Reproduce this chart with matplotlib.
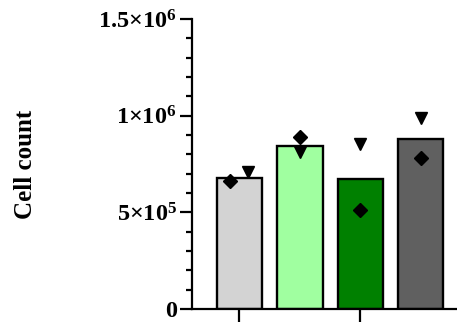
import matplotlib
matplotlib.use("Agg")
import matplotlib.pyplot as plt
from matplotlib.ticker import FixedLocator, MultipleLocator

plt.rcParams['font.family'] = ['Liberation Serif', 'DejaVu Serif']
plt.rcParams['font.weight'] = 'bold'
plt.rcParams['mathtext.fontset'] = 'custom'
plt.rcParams['mathtext.rm'] = 'Liberation Serif:bold'
plt.rcParams['mathtext.bf'] = 'Liberation Serif:bold'
plt.rcParams['mathtext.it'] = 'Liberation Serif:bold:italic'

# data
groups = ['A', 'B', 'C', 'D']
bar_means = [0.679e6, 0.843e6, 0.671e6, 0.878e6]
diamond_vals = [0.664e6, 0.891e6, 0.511e6, 0.780e6]
triangle_vals = [0.710e6, 0.814e6, 0.852e6, 0.990e6]
bar_colors = ['#D3D3D3', '#A0FFA0', '#008000', '#606060']
ytick_vals = [0, 0.5e6, 1.0e6, 1.5e6]
ytick_labels = ['0', r'$\mathbf{5{\times}10^{5}}$', r'$\mathbf{1{\times}10^{6}}$', r'$\mathbf{1.5{\times}10^{6}}$']
ylabel = 'Cell count'

# jitter offsets (layout)
diamond_dx = [-0.157, 0, 0, 0]
triangle_dx = [0.14, 0, 0, 0]

W, H = 457, 325
fig = plt.figure(figsize=(W / 100, H / 100), dpi=100)
ax = fig.add_axes([191.5 / W, (H - 309) / H, (W - 191.5) / W, 290 / H])

x = list(range(len(groups)))
ax.bar(x, bar_means, width=0.75, color=bar_colors, edgecolor='black', linewidth=1.7, zorder=2)
ax.plot([xi + d for xi, d in zip(x, diamond_dx)], diamond_vals, linestyle='none',
        marker='D', markersize=7, color='black', zorder=3, clip_on=False)
ax.plot([xi + d for xi, d in zip(x, triangle_dx)], triangle_vals, linestyle='none',
        marker='v', markersize=9, color='black', zorder=3, clip_on=False)

ax.set_xlim(-0.794, 3.6)
ax.set_ylim(0, 1.5e6)

for s in ['top', 'right']:
    ax.spines[s].set_visible(False)
for s in ['left', 'bottom']:
    ax.spines[s].set_linewidth(1.6)

ax.set_xticks([0, 2])
ax.set_xticklabels([])
ax.tick_params(axis='x', direction='out', length=9.5, width=1.6)

ax.yaxis.set_major_locator(FixedLocator(ytick_vals))
ax.set_yticklabels(ytick_labels)
ax.yaxis.set_minor_locator(MultipleLocator(1e5))
ax.tick_params(axis='y', which='major', direction='out', length=8.5, width=1.6, labelsize=17.5, pad=2)
ax.tick_params(axis='y', which='minor', direction='out', length=4.5, width=1.6)
for lab in ax.get_yticklabels():
    lab.set_fontweight('bold')

ax.set_ylabel(ylabel, fontsize=18, fontweight='bold')
ax.yaxis.set_label_coords(-(191.5 - 37) / (W - 191.5), 0.5)

fig.savefig('out.png', dpi=100)
